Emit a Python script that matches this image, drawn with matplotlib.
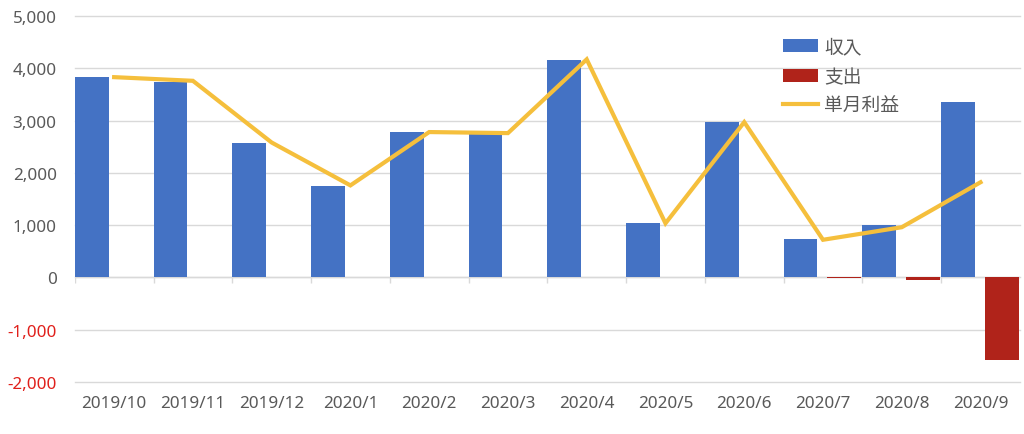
import numpy as np
import matplotlib.pyplot as plt
from matplotlib.ticker import FuncFormatter

plt.rcParams['font.family'] = ['Noto Sans', 'Noto Sans CJK JP']

months = ['2019/10', '2019/11', '2019/12', '2020/1', '2020/2', '2020/3',
          '2020/4', '2020/5', '2020/6', '2020/7', '2020/8', '2020/9']
income = [3830, 3740, 2580, 1750, 2780, 2740, 4160, 1035, 2970, 740, 1000, 3350]
expense = [0, 0, 0, 0, 0, 0, 0, 0, 0, -20, -45, -1570]
profit = [3830, 3760, 2580, 1760, 2780, 2760, 4170, 1035, 2970, 720, 960, 1820]
yticks = [-2000, -1000, 0, 1000, 2000, 3000, 4000, 5000]

gray = '#595959'
x = np.arange(len(months))
w = 0.43

fig = plt.figure(figsize=(10.24, 4.35), dpi=100)
ax = fig.add_axes([0.073, 0.1195, 0.923, 0.8415])

b1 = ax.bar(x - 0.285, income, w, color='#4472C4', label='収入', zorder=2)
b2 = ax.bar(x + 0.27, expense, w, color='#B0231A', label='支出', zorder=2)
l1, = ax.plot(x, profit, color='#F5BF3C', lw=3, label='単月利益', zorder=3,
              solid_joinstyle='miter')

ax.set_xlim(-0.5, len(months) - 0.5)
ax.set_ylim(-2000, 5000)
ax.set_yticks(yticks)
ax.yaxis.set_major_formatter(FuncFormatter(lambda v, p: f'{v:,.0f}'))
ax.grid(axis='y', color='#D9D9D9', lw=1, zorder=0)
for g in ax.get_ygridlines():
    g.set_clip_on(False)
ax.axhline(0, color='#D9D9D9', lw=1, zorder=1)
ax.vlines(np.arange(len(months) + 1) - 0.5, -100, 0, color='#D9D9D9', lw=1)

ax.set_xticks(x)
ax.set_xticklabels(months)
ax.tick_params(axis='both', length=0, labelsize=12.3, colors=gray)
ax.tick_params(axis='y', pad=13)
ax.tick_params(axis='x', pad=9)
for lab, v in zip(ax.get_yticklabels(), yticks):
    if v < 0:
        lab.set_color('#E0201B')
for s in ax.spines.values():
    s.set_visible(False)

leg = ax.legend([b1, b2, l1], ['収入', '支出', '単月利益'],
                loc='upper left', bbox_to_anchor=(0.748, 0.948),
                bbox_transform=fig.transFigure, frameon=False,
                fontsize=13.5, handlelength=1.9, labelspacing=0.6,
                handletextpad=0.3)
for t in leg.get_texts():
    t.set_color(gray)

fig.savefig('out.png', dpi=100)
